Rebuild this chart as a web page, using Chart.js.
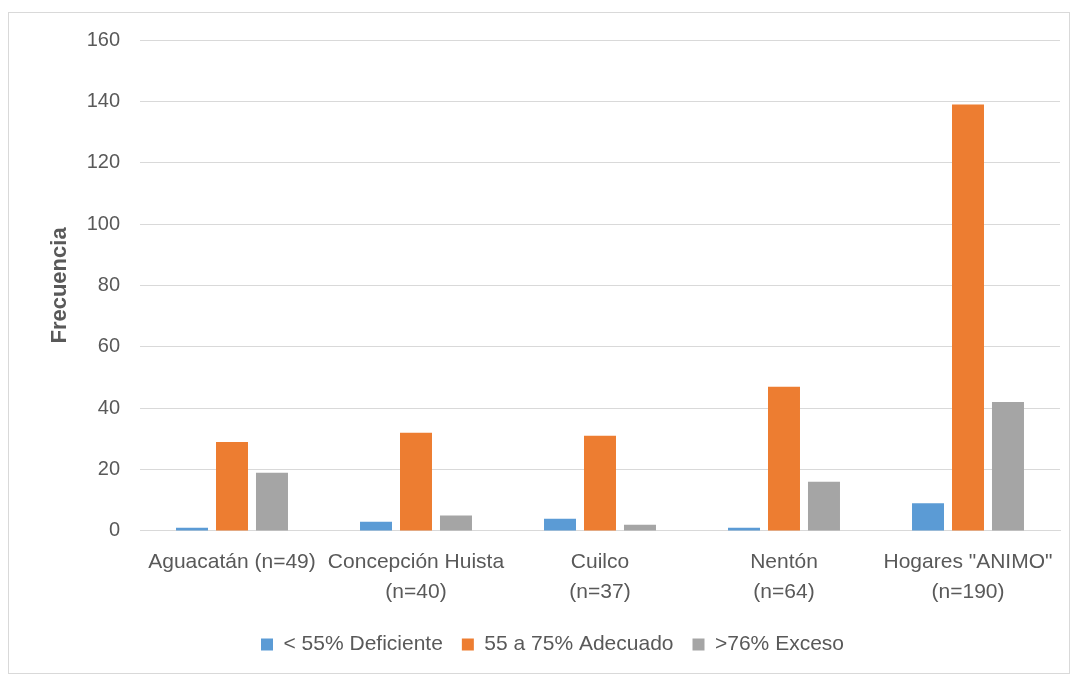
<!DOCTYPE html>
<html>
<head>
<meta charset="utf-8">
<script src="https://cdn.jsdelivr.net/npm/chart.js"></script>
<style>
  body { margin: 0; background: #fff; }
  #wrap { position: absolute; left: 8px; top: 12px; width: 1062px; height: 662px; border: 1px solid #d9d9d9; box-sizing: border-box; }
</style>
</head>
<body>
<div id="wrap"><canvas id="chart"></canvas></div>
<script>
const categories = [
  "Aguacatán (n=49)",
  ["Concepción Huista", "(n=40)"],
  ["Cuilco", "(n=37)"],
  ["Nentón", "(n=64)"],
  ['Hogares "ANIMO"', "(n=190)"]
];
const deficiente = [1, 3, 4, 1, 9];
const adecuado = [29, 32, 31, 47, 139];
const exceso = [19, 5, 2, 16, 42];
const yTicks = [0, 20, 40, 60, 80, 100, 120, 140, 160];

const textColor = "#595959";
const font = "Liberation Sans, Arial, sans-serif";

const ctx = document.getElementById("chart").getContext("2d");
new Chart(ctx, {
  type: "bar",
  data: {
    labels: categories,
    datasets: [
      { label: "< 55% Deficiente", data: deficiente, backgroundColor: "#5b9bd5" },
      { label: "55 a 75% Adecuado", data: adecuado, backgroundColor: "#ed7d31" },
      { label: ">76% Exceso", data: exceso, backgroundColor: "#a5a5a5" }
    ]
  },
  options: {
    responsive: true,
    maintainAspectRatio: false,
    animation: false,
    layout: { padding: { left: 36, right: 9, top: 0, bottom: 8 } },
    datasets: { bar: { barPercentage: 0.8, categoryPercentage: 0.652 } },
    plugins: {
      legend: {
        position: "bottom",
        labels: {
          color: textColor,
          font: { family: font, size: 21 },
          boxWidth: 12,
          boxHeight: 12,
          padding: 19
        }
      },
      tooltip: { enabled: false }
    },
    scales: {
      x: {
        grid: { display: false },
        border: { color: "#d9d9d9", width: 1 },
        ticks: { color: textColor, font: { family: font, size: 21, lineHeight: 1.43 }, maxRotation: 0, autoSkip: false, padding: 8 }
      },
      y: {
        min: 0,
        max: 160,
        afterBuildTicks: axis => { axis.ticks = yTicks.map(v => ({ value: v })); },
        afterFit: axis => { axis.width = 95; axis.paddingTop = 27; },
        grid: { color: "#d9d9d9", drawTicks: false },
        border: { display: false },
        ticks: { color: textColor, font: { family: font, size: 20 }, padding: 20 },
        title: {
          display: true,
          text: "Frecuencia",
          color: textColor,
          font: { family: font, size: 22, weight: "bold" },
          padding: { top: 2, bottom: 0 }
        }
      }
    }
  }
});
</script>
</body>
</html>
